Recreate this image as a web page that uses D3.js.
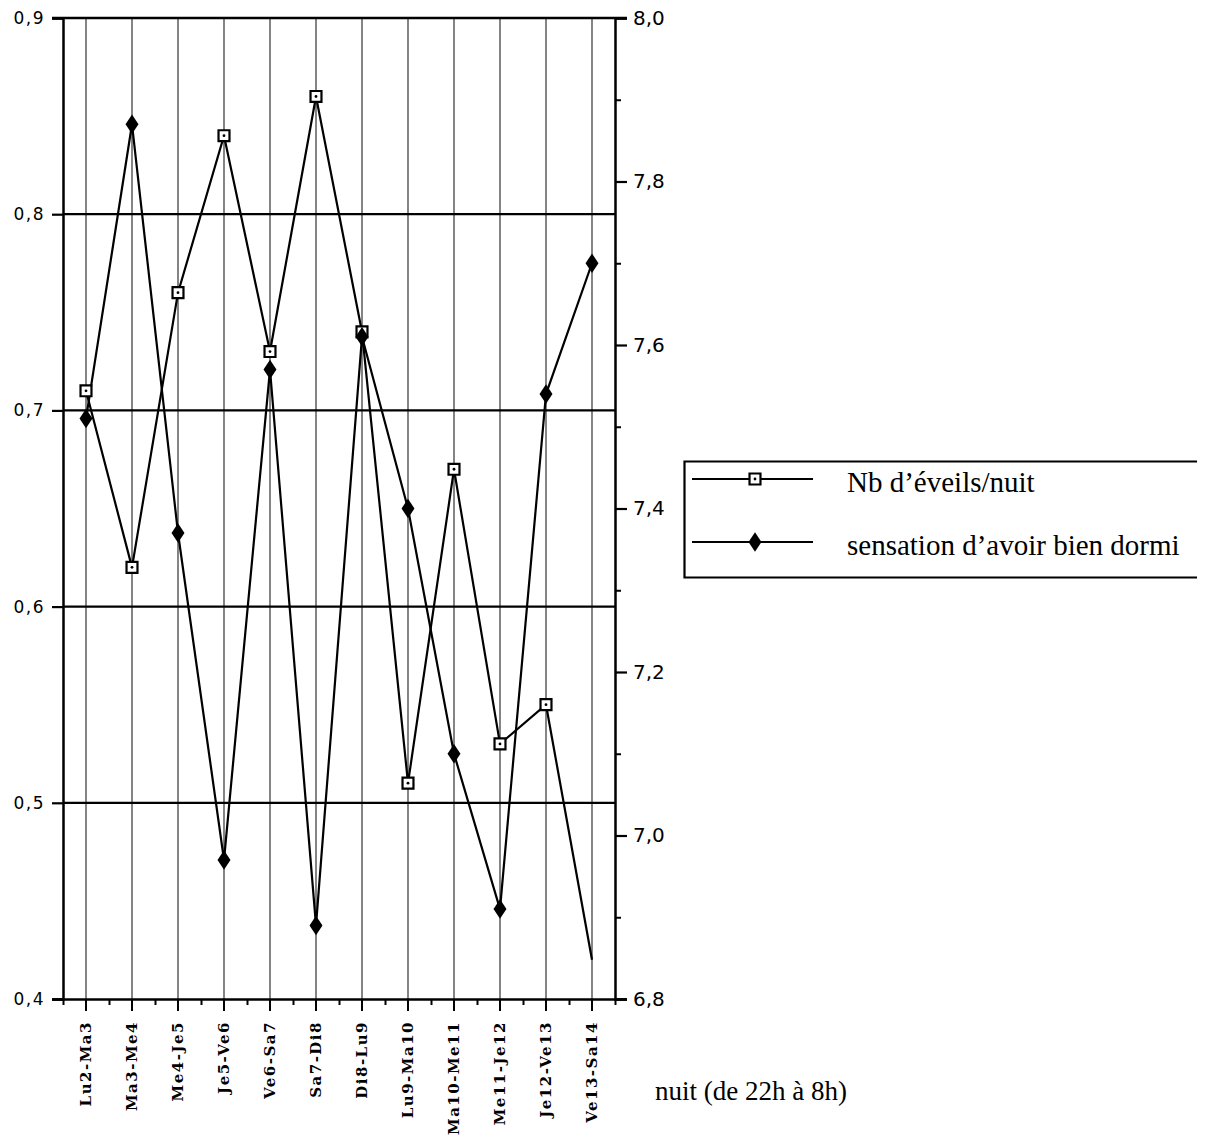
<!DOCTYPE html>
<html>
<head>
<meta charset="utf-8">
<script src="https://cdn.jsdelivr.net/npm/d3@7"></script>
<style>
  html, body { margin: 0; padding: 0; background: #fff; }
  svg { display: block; }
</style>
</head>
<body>
<svg id="chart" width="1214" height="1137"></svg>
<script>
// Nights of the week (evening day - morning day)
const categories = ["Lu2-Ma3", "Ma3-Me4", "Me4-Je5", "Je5-Ve6", "Ve6-Sa7", "Sa7-Di8",
                    "Di8-Lu9", "Lu9-Ma10", "Ma10-Me11", "Me11-Je12", "Je12-Ve13", "Ve13-Sa14"];
// Number of awakenings per night (left axis)
const eveils = [0.71, 0.62, 0.76, 0.84, 0.73, 0.86, 0.74, 0.51, 0.67, 0.53, 0.55, 0.42];
// Feeling of having slept well (right axis)
const sensation = [7.51, 7.87, 7.37, 6.97, 7.57, 6.89, 7.61, 7.40, 7.10, 6.91, 7.54, 7.70];

const leftTicks = [0.4, 0.5, 0.6, 0.7, 0.8, 0.9];
const leftGrid = [0.5, 0.6, 0.7, 0.8];
const rightMajorTicks = [6.8, 7.0, 7.2, 7.4, 7.6, 7.8, 8.0];
const rightMinorTicks = [6.9, 7.1, 7.3, 7.5, 7.7, 7.9];

const legendLabels = ["Nb d\u2019éveils/nuit", "sensation d\u2019avoir bien dormi"];
const xTitle = "nuit (de 22h à 8h)";

const svg = d3.select("#chart");
const plot = { left: 63, right: 615, top: 18, bottom: 999 };

const x = d3.scaleBand().domain(categories).range([plot.left, plot.right]).padding(0);
const cx = d => x(d) + x.bandwidth() / 2;
const yL = d3.scaleLinear().domain([0.4, 0.9]).range([plot.bottom, plot.top]);
const yR = d3.scaleLinear().domain([6.8, 8.0]).range([plot.bottom, plot.top]);
const comma = f => d => d3.format(f)(d).replace(".", ",");

// vertical guide lines at each night
svg.append("g").selectAll("line").data(categories).join("line")
  .attr("x1", cx).attr("x2", cx)
  .attr("y1", plot.top).attr("y2", plot.bottom)
  .attr("stroke", "#333").attr("stroke-width", 1.2);

// horizontal grid lines
svg.append("g").selectAll("line").data(leftGrid).join("line")
  .attr("x1", plot.left).attr("x2", plot.right)
  .attr("y1", d => yL(d)).attr("y2", d => yL(d))
  .attr("stroke", "#000").attr("stroke-width", 2.2);

// top frame line
svg.append("line")
  .attr("x1", plot.left - 11).attr("x2", plot.right + 12)
  .attr("y1", plot.top).attr("y2", plot.top)
  .attr("stroke", "#000").attr("stroke-width", 2.5);

// left axis
const gL = svg.append("g").attr("transform", `translate(${plot.left},0)`)
  .call(d3.axisLeft(yL).tickValues(leftTicks).tickSize(11).tickPadding(7).tickFormat(comma(".1f")));
gL.select(".domain").attr("stroke-width", 2.5);
gL.selectAll(".tick line").attr("stroke-width", 2.2);
gL.selectAll("text").attr("font-family", "DejaVu Sans, sans-serif")
  .attr("font-size", 17).attr("letter-spacing", 1.5).attr("fill", "#000");

// right axis: minor then major ticks
const gRm = svg.append("g").attr("transform", `translate(${plot.right},0)`)
  .call(d3.axisRight(yR).tickValues(rightMinorTicks).tickSize(6).tickFormat(""));
gRm.select(".domain").remove();
gRm.selectAll(".tick line").attr("stroke-width", 2);
const gR = svg.append("g").attr("transform", `translate(${plot.right},0)`)
  .call(d3.axisRight(yR).tickValues(rightMajorTicks).tickSize(12).tickPadding(6).tickFormat(comma(".1f")));
gR.select(".domain").attr("stroke-width", 2.5);
gR.selectAll(".tick line").attr("stroke-width", 2.2);
gR.selectAll("text").attr("font-family", "DejaVu Sans, sans-serif")
  .attr("font-size", 20).attr("fill", "#000");

// bottom axis: short ticks between nights, long ticks at each night
const xb = d3.scaleLinear().domain([0, categories.length]).range([plot.left, plot.right]);
const gBm = svg.append("g").attr("transform", `translate(0,${plot.bottom})`)
  .call(d3.axisBottom(xb).ticks(categories.length).tickSize(6).tickFormat(""));
gBm.select(".domain").remove();
gBm.selectAll(".tick line").attr("stroke-width", 2);
const gB = svg.append("g").attr("transform", `translate(0,${plot.bottom})`)
  .call(d3.axisBottom(x).tickSize(12).tickSizeOuter(0));
gB.select(".domain").attr("d", `M${plot.left - 11},0.5H${plot.right + 12}`).attr("stroke-width", 2.5);
gB.selectAll(".tick line").attr("stroke-width", 2);
gB.selectAll(".tick text")
  .attr("font-family", "DejaVu Serif, serif").attr("font-weight", "bold")
  .attr("font-size", 15).attr("letter-spacing", 1.5).attr("fill", "#000")
  .attr("text-anchor", "end")
  .attr("transform", "rotate(-90)")
  .attr("x", -22).attr("y", 0).attr("dy", "0.35em");

// series lines
const lineL = d3.line().x((d, i) => cx(categories[i])).y(d => yL(d));
const lineR = d3.line().x((d, i) => cx(categories[i])).y(d => yR(d));
svg.append("path").datum(eveils).attr("d", lineL)
  .attr("fill", "none").attr("stroke", "#000").attr("stroke-width", 2.2);
svg.append("path").datum(sensation).attr("d", lineR)
  .attr("fill", "none").attr("stroke", "#000").attr("stroke-width", 2.2);

const squareSym = d3.symbol().type(d3.symbolSquare).size(120);
const diamondSym = d3.symbol().type(d3.symbolDiamond).size(110);

function squareMarker(g, px, py) {
  g.append("path").attr("d", squareSym()).attr("transform", `translate(${px},${py})`)
    .attr("fill", "#fff").attr("stroke", "#000").attr("stroke-width", 2.2);
  g.append("circle").attr("cx", px).attr("cy", py).attr("r", 1.4).attr("fill", "#000");
}
function diamondMarker(g, px, py) {
  g.append("path").attr("d", diamondSym()).attr("transform", `translate(${px},${py}) scale(1.15,1)`)
    .attr("fill", "#000");
}

// awakenings markers (the last night's point is printed without a marker)
const gSq = svg.append("g");
eveils.forEach((v, i) => {
  if (i < eveils.length - 1) squareMarker(gSq, cx(categories[i]), yL(v));
});
// sleep quality markers
const gDi = svg.append("g");
sensation.forEach((v, i) => diamondMarker(gDi, cx(categories[i]), yR(v)));

// legend (runs off the right edge of the page)
svg.append("defs").append("clipPath").attr("id", "legendClip")
  .append("rect").attr("x", 0).attr("y", 0).attr("width", 1197).attr("height", 1137);
const lg = svg.append("g").attr("clip-path", "url(#legendClip)");
lg.append("path").attr("d", "M1230,461.5H684.5V577.5H1230")
  .attr("fill", "none").attr("stroke", "#000").attr("stroke-width", 2.2);
const legendRows = [
  { label: legendLabels[0], y: 479, marker: squareMarker },
  { label: legendLabels[1], y: 542, marker: diamondMarker }
];
legendRows.forEach(r => {
  lg.append("line").attr("x1", 692).attr("x2", 813).attr("y1", r.y).attr("y2", r.y)
    .attr("stroke", "#000").attr("stroke-width", 2.2);
  r.marker(lg, 755, r.y);
  lg.append("text").attr("x", 847).attr("y", r.y + 13).text(r.label)
    .attr("font-family", "Liberation Serif, Times New Roman, serif")
    .attr("font-size", 29).attr("fill", "#000");
});

// x axis title
svg.append("text").attr("x", 655).attr("y", 1100).text(xTitle)
  .attr("font-family", "Liberation Serif, Times New Roman, serif")
  .attr("font-size", 27).attr("fill", "#000");
</script>
</body>
</html>
